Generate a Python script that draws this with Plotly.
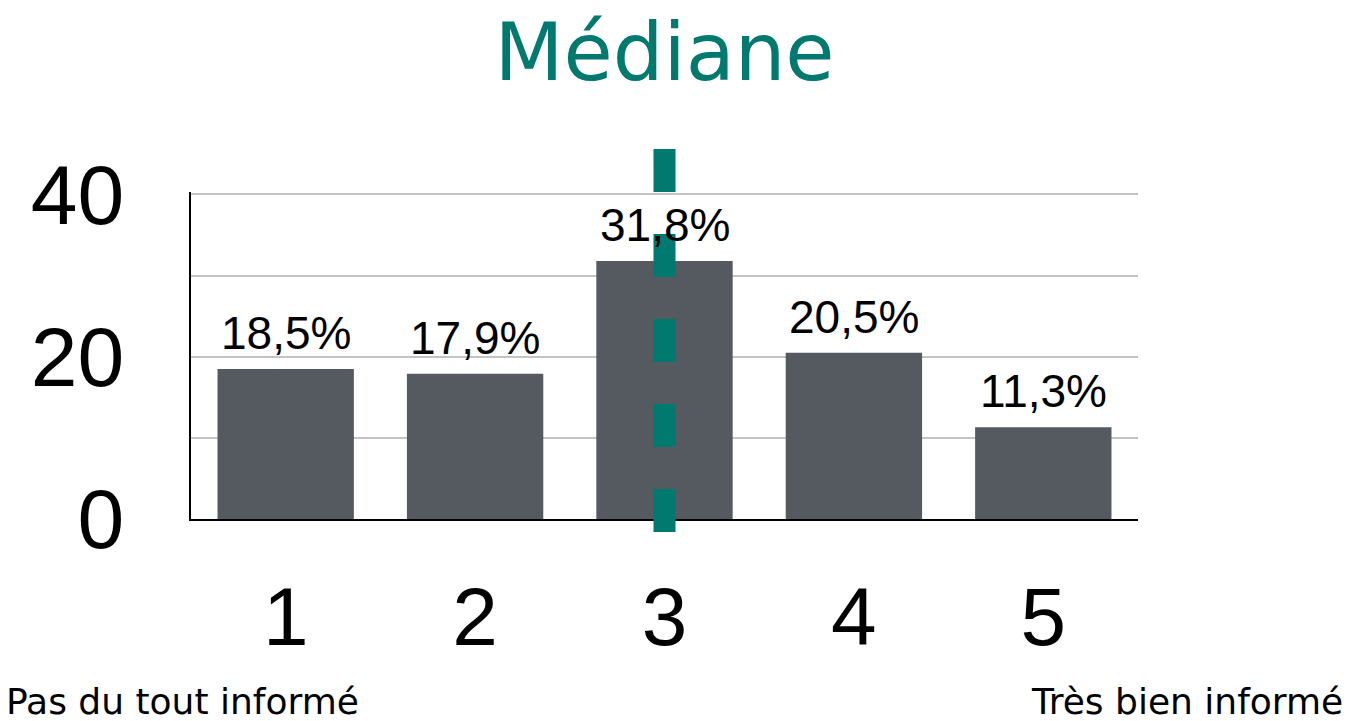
import plotly.graph_objects as go

# Distribution of answers on a 1-5 scale (percent of respondents)
categories = ["1", "2", "3", "4", "5"]
shares = [18.5, 17.9, 31.8, 20.5, 11.3]
y_ticks = [0, 20, 40]
scale_low = "Pas du tout informé"
scale_high = "Très bien informé"
title_text = "Médiane"

TEAL = "#00796F"
BAR = "#555A61"
GRID = "#C3C3C3"
NUM_FONT = "Liberation Sans, Arial, sans-serif"
TXT_FONT = "DejaVu Sans, sans-serif"

# Median category: first category whose cumulative share reaches half the total
total = sum(shares)
running = 0.0
median_idx = len(categories) - 1
for i, v in enumerate(shares):
    running += v
    if running >= total / 2:
        median_idx = i
        break

labels = [f"{v:.1f}%".replace(".", ",") for v in shares]

fig = go.Figure(
    go.Bar(
        x=categories,
        y=shares,
        marker=dict(color=BAR, line=dict(width=0)),
        width=0.72,
    )
)

# Percentage labels above each bar (category axis positions are indices)
for i, (v, lab) in enumerate(zip(shares, labels)):
    fig.add_annotation(
        x=i, y=v, xref="x", yref="y",
        text=lab, showarrow=False,
        xanchor="center", yanchor="bottom", yshift=8,
        font=dict(family=NUM_FONT, size=46, color="black"),
    )

# Dashed marker at the median category, running past the plot area
fig.add_shape(
    type="line",
    xref="x",
    yref="paper",
    x0=median_idx,
    x1=median_idx,
    y0=1.1315,
    y1=-0.0398,
    line=dict(color=TEAL, width=22, dash="43px,42px"),
    layer="above",
)

fig.add_annotation(
    text=scale_low, xref="paper", yref="paper",
    x=-0.1975, y=-0.557, xanchor="left", yanchor="middle", showarrow=False,
    font=dict(family=TXT_FONT, size=36, color="black"),
)
fig.add_annotation(
    text=scale_high, xref="paper", yref="paper",
    x=1.2185, y=-0.557, xanchor="right", yanchor="middle", showarrow=False,
    font=dict(family=TXT_FONT, size=36, color="black"),
)

fig.update_layout(
    width=1358,
    height=721,
    margin=dict(l=191, r=220, t=192, b=202),
    paper_bgcolor="white",
    plot_bgcolor="white",
    showlegend=False,
    title=dict(
        text=title_text,
        x=0.5,
        xref="paper",
        y=1 - 52 / 721,
        yref="container",
        xanchor="center",
        yanchor="middle",
        font=dict(family=TXT_FONT, size=80, color=TEAL),
    ),
    xaxis=dict(
        type="category",
        range=[-0.5, len(categories) - 0.5],
        showline=True,
        linecolor="black",
        linewidth=2,
        ticks="",
        showgrid=False,
        ticklabelstandoff=26,
        tickfont=dict(family=NUM_FONT, size=82, color="black"),
    ),
    yaxis=dict(
        range=[0, 40.3],
        tickvals=y_ticks,
        showline=True,
        linecolor="black",
        linewidth=2,
        ticks="",
        showgrid=True,
        gridcolor=GRID,
        gridwidth=2,
        minor=dict(dtick=10, showgrid=True, gridcolor=GRID, gridwidth=2),
        zeroline=False,
        ticklabelstandoff=48,
        tickfont=dict(family=NUM_FONT, size=84, color="black"),
    ),
)

fig.write_html("out.html")
